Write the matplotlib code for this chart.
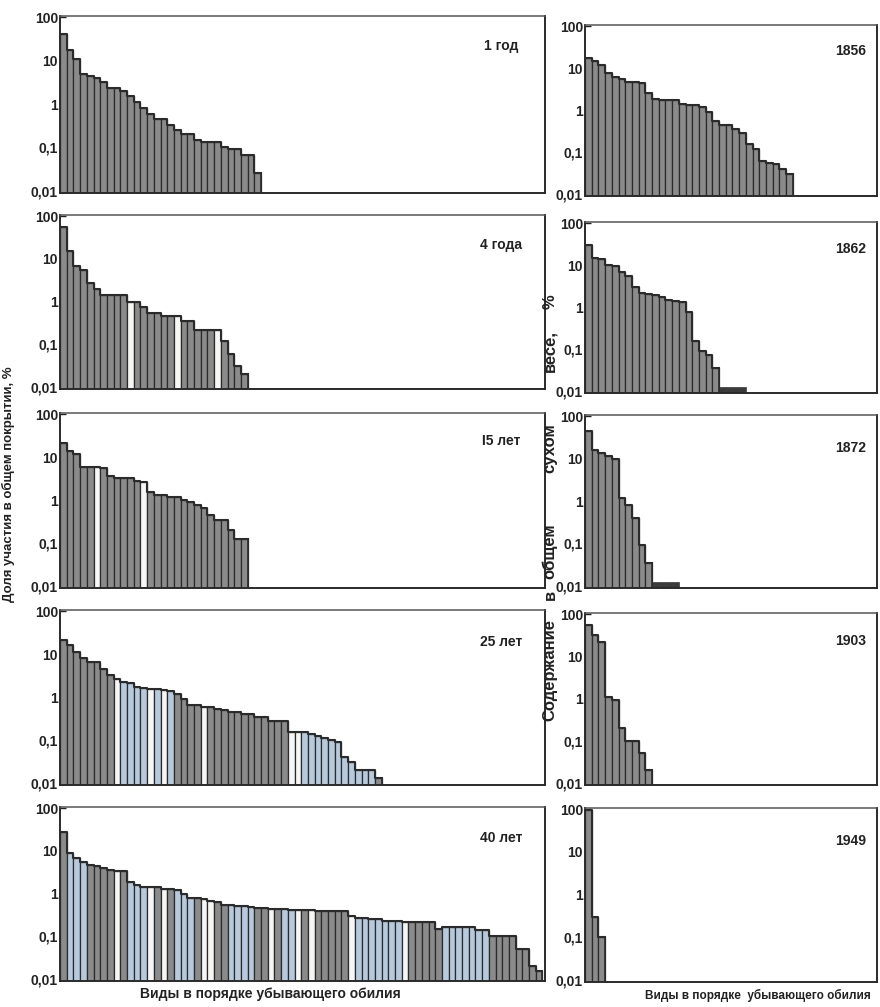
import matplotlib
matplotlib.use("Agg")
import matplotlib.pyplot as plt
import numpy as np

plt.rcParams['font.family'] = ['Liberation Sans', 'DejaVu Sans']

# ---------------- data (percent, species in order of decreasing abundance) -------------
labels_left = ["1 год", "4 года", "I5 лет", "25 лет", "40 лет"]
labels_right = ["1856", "1862", "1872", "1903", "1949"]

god1 = [42, 18, 11, 5, 4.5, 4, 3.2, 2.3, 2.3, 2.0, 1.5, 1.1, 0.8, 0.6, 0.45, 0.45, 0.33,
        0.25, 0.2, 0.2, 0.15, 0.13, 0.13, 0.13, 0.1, 0.09, 0.09, 0.065, 0.065, 0.025]
goda4 = [55, 15, 7, 5.5, 2.8, 2.0, 1.4, 1.4, 1.4, 1.4, 1.0, 1.0, 0.75, 0.55, 0.55, 0.45,
         0.45, 0.45, 0.35, 0.35, 0.22, 0.22, 0.22, 0.22, 0.12, 0.06, 0.03, 0.02]
let15 = [22, 14, 12, 6, 6, 6, 5.5, 3.7, 3.2, 3.2, 3.2, 2.8, 2.6, 1.5, 1.3, 1.3, 1.2, 1.15,
         1.0, 0.9, 0.75, 0.65, 0.45, 0.35, 0.35, 0.2, 0.12, 0.12]
let25 = [22, 16, 11, 8, 6.5, 6.5, 4.5, 3.2, 2.7, 2.3, 2.1, 1.7, 1.6, 1.5, 1.5, 1.45, 1.4,
         1.2, 0.9, 0.65, 0.65, 0.6, 0.6, 0.52, 0.5, 0.45, 0.45, 0.4, 0.4, 0.35, 0.35, 0.28,
         0.28, 0.27, 0.15, 0.15, 0.15, 0.14, 0.12, 0.11, 0.1, 0.09, 0.04, 0.03, 0.02, 0.02,
         0.02, 0.013]
let40 = [28, 9, 7, 5.5, 4.8, 4.5, 4.0, 3.5, 3.4, 3.4, 1.9, 1.6, 1.45, 1.45, 1.4, 1.3, 1.25,
         1.2, 1.0, 0.8, 0.8, 0.75, 0.65, 0.62, 0.55, 0.55, 0.52, 0.5, 0.48, 0.45, 0.45, 0.44,
         0.44, 0.43, 0.42, 0.4, 0.4, 0.4, 0.38, 0.38, 0.38, 0.38, 0.38, 0.3, 0.27, 0.27, 0.25,
         0.25, 0.23, 0.23, 0.23, 0.22, 0.22, 0.22, 0.22, 0.22, 0.15, 0.16, 0.16, 0.16, 0.16,
         0.16, 0.14, 0.14, 0.1, 0.1, 0.1, 0.1, 0.05, 0.05, 0.02, 0.015]

y1856 = [18, 15, 12, 7.5, 6, 5.5, 4.8, 4.7, 4.5, 2.5, 1.8, 1.75, 1.7, 1.7, 1.4, 1.35, 1.3,
         1.2, 0.9, 0.55, 0.45, 0.45, 0.35, 0.28, 0.15, 0.12, 0.06, 0.055, 0.05, 0.04, 0.03]
y1862 = [30, 15, 14, 10, 9.5, 7, 5.5, 3, 2.2, 2.0, 1.9, 1.7, 1.5, 1.4, 1.35, 0.75, 0.15,
         0.09, 0.07, 0.035]
y1872 = [45, 16, 14, 11.5, 10, 1.2, 0.8, 0.4, 0.09, 0.035]
y1903 = [55, 32, 22, 1.1, 0.9, 0.2, 0.1, 0.1, 0.05, 0.02]
y1949 = [95, 0.3, 0.1]

# species present only in traces (drawn as a thin dark strip on the baseline)
trace_1862 = [0.012, 0.012, 0.012, 0.012]
trace_1872 = [0.012, 0.012, 0.012, 0.012]

left_data = [god1, goda4, let15, let25, let40]
right_data = [y1856, y1862, y1872, y1903, y1949]
right_trace = [[], trace_1862, trace_1872, [], []]

# ---------------- styles --------------------------------------------------------------
GRAY = '#8b8b8b'
WHITE = '#f6f6f4'
BLUE = '#b7cadd'
DARK = '#2b2b2b'
TRACE = '#3a3a3a'

white_left = [[], [10, 17, 23], [5, 12], [8, 13, 15, 21, 34, 35],
              [8, 13, 15, 21, 22, 31, 35, 37, 43, 51]]
blue_left = [[], [], [], [9, 10, 11, 12, 14, 16, 36, 37, 38, 39, 40, 41, 42, 43, 44, 45, 46],
             [1, 2, 3, 10, 11, 12, 17, 18, 19, 25, 26, 27, 28, 33, 34, 44, 45, 46, 47,
              48, 49, 50, 57, 58, 59, 60, 61, 62, 63]]

W, H = 880, 1007
fig = plt.figure(figsize=(W / 100, H / 100), dpi=100)
fig.patch.set_facecolor('white')

left_boxes = [(16, 193), (215, 389), (413, 588), (610, 785), (807, 981)]
right_boxes = [(25, 196), (222, 393), (415, 588), (613, 785), (808, 982)]
LX0, LX1 = 60, 545
RX0, RX1 = 585, 877
BARPX = 6.7


def make_ax(x0, x1, top, bot):
    return fig.add_axes([x0 / W, 1 - bot / H, (x1 - x0) / W, (bot - top) / H])


def draw(ax, vals, nslots, whites=(), blues=(), trace=()):
    vals = np.asarray(vals, dtype=float)
    n = len(vals)
    x = np.arange(n)
    cols = [WHITE if i in whites else BLUE if i in blues else GRAY for i in range(n)]
    ax.bar(x, vals - 1e-3, bottom=1e-3, width=1.0, align='edge', color=cols,
           edgecolor=DARK, linewidth=0.9, zorder=2)
    edges = np.append(x, n)
    ax.step(edges, np.append(vals, vals[-1]), where='post', color=DARK, lw=1.5, zorder=3)
    ax.plot([n, n], [1e-3, vals[-1]], color=DARK, lw=1.2, zorder=3)
    if len(trace):
        tv = np.asarray(trace, dtype=float)
        ax.bar(n + np.arange(len(tv)), tv - 1e-3, bottom=1e-3, width=1.0, align='edge',
               color=TRACE, edgecolor=TRACE, linewidth=0.5, zorder=2)
    ax.set_yscale('log')
    ax.set_ylim(0.0088, 108)
    ax.set_xlim(0, nslots)
    ax.set_yticks([0.01, 0.1, 1, 10, 100])
    ax.set_yticklabels(['0,01', '0,1', '1', '10', '100'])
    ax.minorticks_off()
    ax.set_xticks([])
    ax.tick_params(axis='y', direction='in', length=4, width=1.0, pad=1.5,
                   labelsize=10, colors='#222')
    for lab in ax.get_yticklabels():
        lab.set_fontweight('bold')
    for s in ax.spines.values():
        s.set_color('#2a2a2a')
        s.set_linewidth(1.4)
    ax.spines['top'].set_linewidth(1.1)
    ax.spines['top'].set_color('#555')


nl = (LX1 - LX0) / BARPX
nr = (RX1 - RX0) / BARPX
lab_y = [0.83, 0.83, 0.84, 0.82, 0.82]
for k, (top, bot) in enumerate(left_boxes):
    ax = make_ax(LX0, LX1, top, bot)
    draw(ax, left_data[k], nl, white_left[k], blue_left[k])
    ax.text(0.91, lab_y[k], labels_left[k], transform=ax.transAxes, ha='center',
            va='center', fontsize=10, fontweight='bold', color='#222')

for k, (top, bot) in enumerate(right_boxes):
    ax = make_ax(RX0, RX1, top, bot)
    draw(ax, right_data[k], nr, trace=right_trace[k])
    ax.text(0.91, [0.85, 0.84, 0.81, 0.84, 0.81][k], labels_right[k],
            transform=ax.transAxes, ha='center', va='center', fontsize=10,
            fontweight='bold', color='#222')

fig.text(8 / W, 1 - 484 / H, "Доля участия в общем покрытии, %", rotation=90,
         ha='center', va='center', fontsize=9.5, fontweight='bold', color='#222')

# right-hand y label: widely spaced words, as in the original
right_words = ["Содержание", "в", "общем", "сухом", "весе,", "%"]
right_word_y = [670, 595, 551, 448, 351, 302]
for wtxt, wy in zip(right_words, right_word_y):
    fig.text(550 / W, 1 - wy / H, wtxt, rotation=90, ha='center', va='center',
             fontsize=12, fontweight='bold', color='#222')

fig.text(270 / W, 1 - 994 / H, "Виды в порядке убывающего обилия", ha='center',
         va='center', fontsize=10, fontweight='bold', color='#222')
fig.text(758 / W, 1 - 995 / H, "Виды в порядке  убывающего обилия", ha='center',
         va='center', fontsize=8.5, fontweight='bold', color='#222')

fig.savefig('out.png', dpi=100, facecolor='white')
